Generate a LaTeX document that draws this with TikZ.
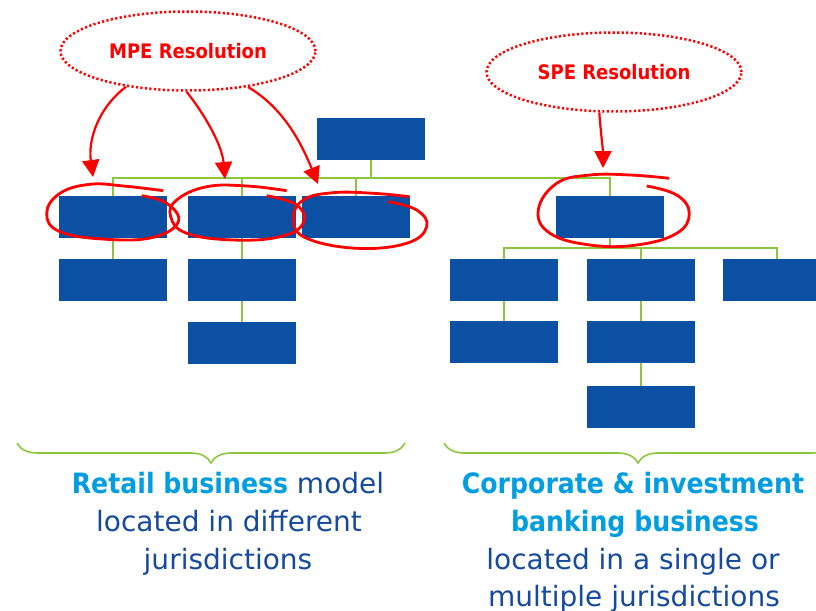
\documentclass[tikz,border=0pt]{standalone}
\usepackage{fontspec}
\newfontfamily\tah{DejaVu Sans}[BoldFeatures={FakeStretch=0.9}]
\usetikzlibrary{arrows.meta,shapes.geometric,decorations.pathreplacing}
\definecolor{boxblue}{RGB}{11,80,162}
\definecolor{lgreen}{RGB}{140,198,63}
\definecolor{lblue}{RGB}{0,158,224}
\definecolor{dblue}{RGB}{22,74,156}
\definecolor{rred}{RGB}{255,0,0}
\begin{document}
\begin{tikzpicture}[x=1pt,y=-1pt,
 box/.style={fill=boxblue,minimum width=108pt,minimum height=42pt,inner sep=0pt},
 conn/.style={draw=lgreen,line width=2pt},
 resol/.style={ellipse,draw=rred,line width=2.5pt,dash pattern=on 2.2pt off 2.3pt,minimum width=255pt,minimum height=79pt,inner sep=0pt,text=rred,font=\tah\bfseries\fontsize{20}{24}\selectfont},
 rarrow/.style={draw=rred,line width=2.2pt,-{Triangle[width=17pt,length=17pt]}},
 redloop/.style={draw=rred,line width=2.8pt},
 brc/.style={draw=lgreen,line width=1.6pt,decorate,decoration={brace,mirror,amplitude=20pt,aspect=0.5}},
 caption/.style={anchor=base,inner sep=0pt,text=dblue,font=\tah\fontsize{28}{34}\selectfont}]
\useasboundingbox (0,0) rectangle (816,610);
\clip (0,0) rectangle (816,610);

% boxes
\node[box] (t) at (371,138.5) {};
\node[box] (a1) at (113,217) {};
\node[box] (a2) at (242,217) {};
\node[box] (a3) at (356,217) {};
\node[box] (c1) at (113,280) {};
\node[box] (c2) at (242,280) {};
\node[box] (d2) at (242,343) {};
\node[box] (s) at (610,217) {};
\node[box] (b1) at (504,280) {};
\node[box] (b2) at (641,280) {};
\node[box] (b3) at (777,280) {};
\node[box] (e1) at (504,342) {};
\node[box] (e2) at (641,342) {};
\node[box] (f2) at (641,407) {};

% green connectors
\coordinate (j1) at (371,178);
\coordinate (j2) at (610,248);
\draw[conn] (t.south) -- (j1);
\draw[conn] (a1.north) |- (j1);
\draw[conn] (a2.north) |- (j1);
\draw[conn] (a3.north) |- (j1);
\draw[conn] (s.north) |- (j1);
\draw[conn] (a1.south) -- (c1.north);
\draw[conn] (a2.south) -- (c2.north);
\draw[conn] (c2.south) -- (d2.north);
\draw[conn] (s.south) -- (j2);
\draw[conn] (b1.north) |- (j2);
\draw[conn] (b2.north) |- (j2);
\draw[conn] (b3.north) |- (j2);
\draw[conn] (b1.south) -- (e1.north);
\draw[conn] (b2.south) -- (e2.north);
\draw[conn] (e2.south) -- (f2.north);

% resolution ellipses
\node[resol] (mpe) at (188,51) {MPE Resolution};
\node[resol] (spe) at (614,72) {SPE Resolution};

% red arrows
\coordinate (t1) at (93,177);
\coordinate (t2) at (225,179);
\coordinate (t3) at (318,184);
\coordinate (t4) at (603,168);
\draw[rarrow] (mpe.210) .. controls (98,108) and (88,140) .. (t1);
\draw[rarrow] (mpe.268) .. controls (205,115) and (222,145) .. (t2);
\draw[rarrow] (mpe.329) .. controls (282,107) and (300,140) .. (t3);
\draw[rarrow] (spe.250) .. controls (601,135) and (603,150) .. (t4);

% hand-drawn loops
\draw[redloop] plot[smooth,tension=0.7] coordinates {(163.3,190.7) (123.3,186) (90,184.3) (60,193.3) (46.7,213.3) (60,231.7) (106.7,239.3) (153.3,237.3) (178.3,221.7) (166.7,203.3) (141.7,195.7)};
\draw[redloop] plot[smooth,tension=0.7] coordinates {(286.7,190.7) (246.7,186) (206.7,186.7) (176.7,200) (170.7,216.7) (186.7,233.3) (233.3,240) (280,236.7) (303.3,223.3) (296.7,205) (266.7,195.7)};
\draw[redloop] plot[smooth,tension=0.7] coordinates {(409.3,196.7) (373.3,193.3) (333.3,192.7) (303.3,200) (293.3,220) (306.7,238.3) (356.7,248.3) (406.7,243.3) (426.7,226.7) (416.7,210) (388.3,201.7)};
\draw[redloop] plot[smooth,tension=0.7] coordinates {(669.3,178.3) (630,175) (590,175) (556.7,183.3) (538.3,210) (550,233.3) (590,245) (636.7,245) (676.7,233.3) (689.3,213.3) (676.7,195) (646.7,186)};

% braces
\draw[brc] (17,443) -- (405,443);
\draw[brc] (444,443) -- (832,443);

% captions
\node[caption] (l1) at (228,493) {{\bfseries\color{lblue}Retail business} model};
\node[caption] (l2) at (229,531) {located in different};
\node[caption] (l3) at (228,569) {jurisdictions};
\node[caption] (r1) at (633,493) {\bfseries\color{lblue}Corporate \& investment};
\node[caption] (r2) at (635,531) {\bfseries\color{lblue}banking business};
\node[caption] (r3) at (633,569) {located in a single or};
\node[caption] (r4) at (634,606) {multiple jurisdictions};
\end{tikzpicture}
\end{document}
